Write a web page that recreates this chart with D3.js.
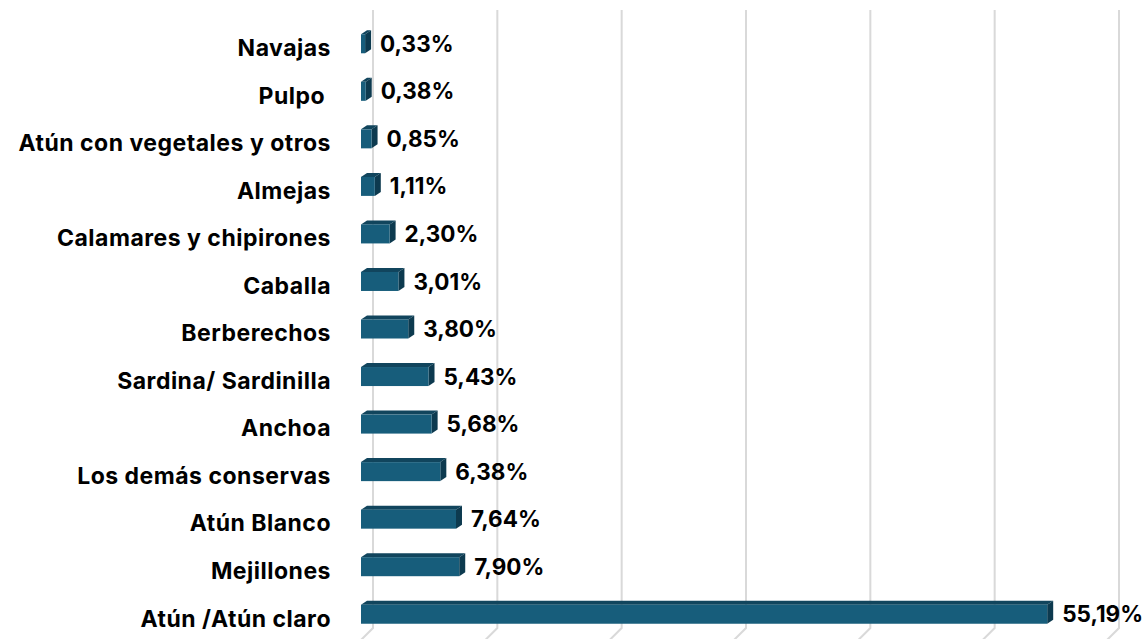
<!DOCTYPE html>
<html>
<head>
<meta charset="utf-8">
<script src="https://cdn.jsdelivr.net/npm/d3@7"></script>
<style>
  body { margin: 0; background: #fff; }
  svg { display: block; }
</style>
</head>
<body>
<svg id="chart" width="1145" height="639"></svg>
<script>
var w = 1145;
var h = 639;

var categories = [
  "Navajas", "Pulpo ", "Atún con vegetales y otros", "Almejas",
  "Calamares y chipirones", "Caballa", "Berberechos", "Sardina/ Sardinilla",
  "Anchoa", "Los demás conservas", "Atún Blanco", "Mejillones", "Atún /Atún claro"
];
var values = [0.33, 0.38, 0.85, 1.11, 2.30, 3.01, 3.80, 5.43, 5.68, 6.38, 7.64, 7.90, 55.19];
var gridTicks = [0, 10, 20, 30, 40, 50, 60];

var data = categories.map(function(c, i) { return { name: c, value: values[i] }; });

var depthX = 6, depthY = 4;   // 3d offset of the bars
var wallX = 12;                // back wall offset of gridlines

var svg = d3.select("#chart");

var xScale = d3.scaleLinear().domain([0, 60]).range([361, 1107]);

var yScale = d3.scaleBand()
  .domain(categories)
  .range([20, 638])
  .paddingInner(0.6)
  .paddingOuter(0.3);

// gridlines on back wall + floor
var grid = svg.append("g")
  .attr("stroke", "#d9d9d9")
  .attr("stroke-width", 2)
  .attr("fill", "none");

grid.selectAll("path")
  .data(gridTicks)
  .enter()
  .append("path")
  .attr("d", function(d) {
    var x = xScale(d) + wallX;
    return "M" + x + ",10 L" + x + ",628 L" + (x - 12) + ",640";
  });

// bars
var bars = svg.append("g")
  .selectAll("g")
  .data(data)
  .enter()
  .append("g");

// top face
bars.append("path")
  .attr("fill", "#11455d")
  .attr("d", function(d) {
    var x0 = xScale(0), x1 = xScale(d.value), y = yScale(d.name);
    return "M" + x0 + "," + y + " L" + (x0 + depthX) + "," + (y - depthY) +
      " L" + (x1 + depthX) + "," + (y - depthY) + " L" + x1 + "," + y + "Z";
  });

// side face
bars.append("path")
  .attr("fill", "#0d3a4f")
  .attr("d", function(d) {
    var x1 = xScale(d.value), y = yScale(d.name), bh = yScale.bandwidth();
    return "M" + x1 + "," + y + " L" + (x1 + depthX) + "," + (y - depthY) +
      " L" + (x1 + depthX) + "," + (y + bh - depthY) + " L" + x1 + "," + (y + bh) + "Z";
  });

// front face
bars.append("rect")
  .attr("fill", "#175d7b")
  .attr("x", xScale(0))
  .attr("y", function(d) { return yScale(d.name); })
  .attr("width", function(d) { return xScale(d.value) - xScale(0); })
  .attr("height", yScale.bandwidth());

// value labels
svg.append("g")
  .style("font", "bold 22.5px Inter, sans-serif")
  .attr("fill", "#000")
  .selectAll("text")
  .data(data)
  .enter()
  .append("text")
  .attr("x", function(d) { return xScale(d.value) + 15; })
  .attr("y", function(d) { return yScale(d.name) + yScale.bandwidth() / 2; })
  .attr("dy", "0.36em")
  .text(function(d) { return d.value.toFixed(2).replace(".", ",") + "%"; });

// category labels
svg.append("g")
  .style("font", "bold 23px Inter, sans-serif")
  .style("letter-spacing", "0.5px")
  .attr("fill", "#000")
  .attr("text-anchor", "end")
  .selectAll("text")
  .data(data)
  .enter()
  .append("text")
  .attr("x", 331)
  .attr("y", function(d) { return yScale(d.name) + yScale.bandwidth() / 2 + 4; })
  .attr("dy", "0.36em")
  .attr("xml:space", "preserve")
  .style("white-space", "pre")
  .text(function(d) { return d.name; });
</script>
</body>
</html>
